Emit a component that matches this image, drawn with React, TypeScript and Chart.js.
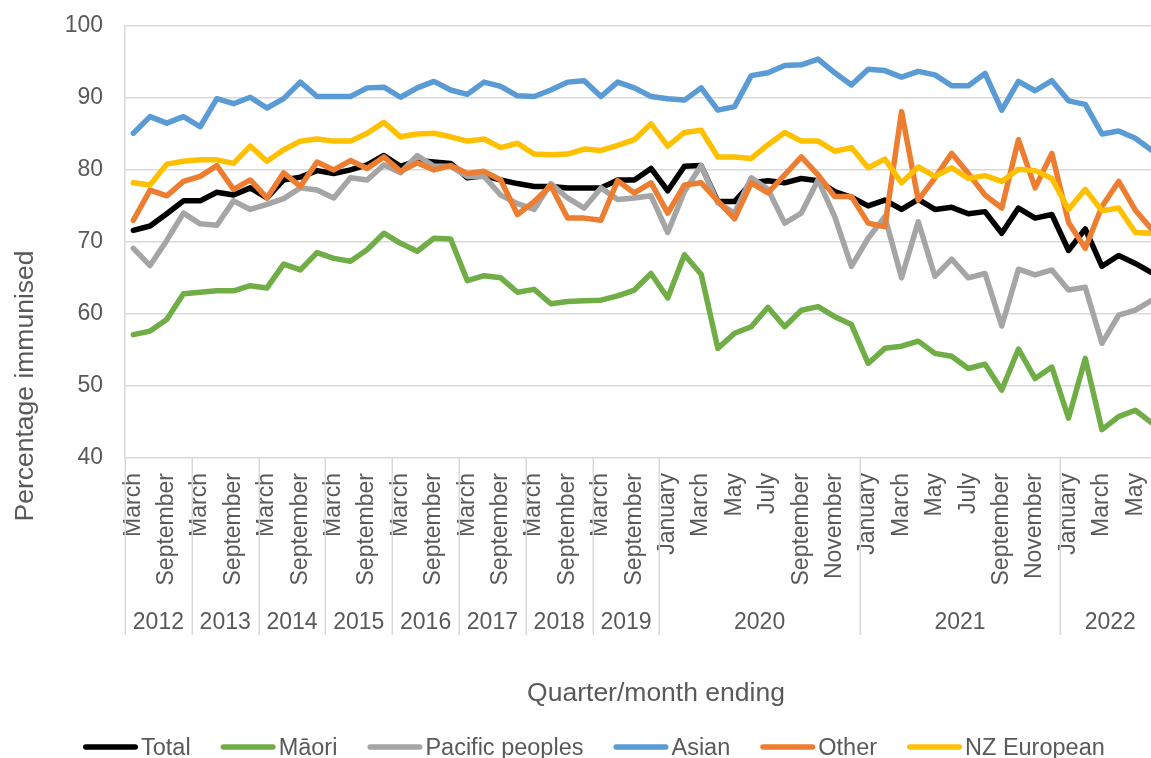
import React, { useEffect, useRef } from "react";
import { Chart, registerables } from "chart.js";

Chart.register(...registerables);

// ---------- data ----------
const years = ["2012", "2013", "2014", "2015", "2016", "2017", "2018", "2019", "2020", "2021", "2022"];
const periodsPerYear = [4, 4, 4, 4, 4, 4, 4, 4, 12, 12, 6];
const quarterMonths = ["March", "June", "September", "December"];
const monthNames = [
  "January", "February", "March", "April", "May", "June",
  "July", "August", "September", "October", "November", "December",
];
const yTicks = [40, 50, 60, 70, 80, 90, 100];

const seriesNames = ["Total", "Māori", "Pacific peoples", "Asian", "Other", "NZ European"];
const seriesColors = ["#000000", "#70AD47", "#A5A5A5", "#5B9BD5", "#ED7D31", "#FFC000"];

const total = [
  71.6, 72.2, 73.9, 75.7, 75.7, 76.9, 76.5, 77.5, 76.1, 78.6, 79.0, 79.9, 79.5, 80.0, 80.7, 82.0,
  80.5, 81.3, 81.1, 80.9, 78.9, 79.2, 78.6, 78.1, 77.7, 77.7, 77.5, 77.5, 77.5, 78.6, 78.6, 80.2,
  77.1, 80.5, 80.6, 75.6, 75.6, 78.2, 78.5, 78.2, 78.8, 78.5, 77.0, 76.2,
  75.0, 75.8, 74.5, 75.9, 74.5, 74.8, 73.9, 74.2, 71.2, 74.7, 73.3, 73.8,
  68.8, 71.8, 66.6, 68.1, 67.0, 65.7,
];
const maori = [
  57.1, 57.6, 59.2, 62.8, 63.0, 63.2, 63.2, 63.9, 63.6, 66.9, 66.1, 68.5, 67.7, 67.3, 68.9, 71.2,
  69.8, 68.7, 70.5, 70.4, 64.6, 65.3, 65.0, 63.0, 63.4, 61.4, 61.7, 61.8, 61.9, 62.5, 63.3, 65.6,
  62.2, 68.2, 65.5, 55.2, 57.3, 58.2, 60.9, 58.2, 60.5, 61.0, 59.6, 58.5,
  53.1, 55.2, 55.5, 56.2, 54.5, 54.1, 52.4, 53.0, 49.4, 55.1, 51.0, 52.6,
  45.5, 53.8, 43.9, 45.7, 46.6, 44.8,
];
const pacific = [
  69.1, 66.7, 70.2, 74.0, 72.5, 72.3, 75.7, 74.5, 75.2, 76.0, 77.5, 77.2, 76.1, 78.9, 78.6, 80.7,
  79.6, 82.0, 80.5, 80.5, 79.1, 79.1, 76.5, 75.3, 74.5, 78.1, 76.1, 74.7, 77.5, 75.9, 76.1, 76.4,
  71.3, 77.0, 80.6, 75.4, 74.0, 78.9, 77.3, 72.6, 74.0, 78.6, 73.5, 66.6,
  70.5, 73.5, 65.0, 72.8, 65.2, 67.6, 65.0, 65.6, 58.3, 66.2, 65.4, 66.1,
  63.3, 63.7, 55.9, 59.8, 60.5, 61.9,
];
const asian = [
  85.1, 87.4, 86.5, 87.4, 86.0, 89.9, 89.2, 90.1, 88.6, 89.9, 92.2, 90.2, 90.2, 90.2, 91.4, 91.5,
  90.1, 91.4, 92.3, 91.1, 90.5, 92.2, 91.6, 90.3, 90.2, 91.1, 92.2, 92.4, 90.2, 92.2, 91.4, 90.2,
  89.9, 89.7, 91.4, 88.3, 88.8, 93.1, 93.5, 94.5, 94.6, 95.4, 93.5, 91.8,
  94.0, 93.8, 92.9, 93.7, 93.2, 91.7, 91.7, 93.4, 88.3, 92.3, 91.0, 92.4,
  89.6, 89.1, 85.0, 85.4, 84.4, 82.7,
];
const other = [
  73.0, 77.2, 76.4, 78.4, 79.1, 80.6, 77.3, 78.6, 76.1, 79.6, 77.7, 81.1, 80.0, 81.3, 80.2, 81.8,
  79.8, 81.0, 80.0, 80.6, 79.5, 79.8, 78.6, 73.8, 75.6, 77.8, 73.3, 73.3, 73.0, 78.5, 76.8, 78.2,
  74.0, 77.9, 78.2, 75.7, 73.2, 78.2, 76.8, 79.3, 81.8, 79.3, 76.3, 76.3,
  72.6, 72.1, 88.1, 75.8, 78.9, 82.3, 79.5, 76.5, 74.7, 84.2, 77.5, 82.3,
  72.7, 69.1, 74.9, 78.4, 74.4, 71.7,
];
const nzEuropean = [
  78.2, 77.9, 80.8, 81.2, 81.4, 81.4, 80.9, 83.3, 81.2, 82.8, 84.0, 84.3, 84.0, 84.0, 85.1, 86.6,
  84.6, 85.0, 85.1, 84.6, 84.0, 84.3, 83.1, 83.7, 82.2, 82.1, 82.2, 82.9, 82.7, 83.4, 84.2, 86.4,
  83.3, 85.2, 85.5, 81.8, 81.8, 81.6, 83.5, 85.2, 84.0, 84.0, 82.6, 83.1,
  80.3, 81.5, 78.2, 80.4, 79.1, 80.3, 78.8, 79.2, 78.4, 80.1, 79.9, 78.8,
  74.5, 77.3, 74.3, 74.7, 71.3, 71.2,
];

const seriesData = [total, maori, pacific, asian, other, nzEuropean];

// ---------- derived categories ----------
const categoryLabels: string[] = [];
const categoryWithinYear: number[] = [];
periodsPerYear.forEach((n, yi) => {
  const names = n === 4 ? quarterMonths : monthNames.slice(0, n);
  names.forEach((name, k) => {
    categoryLabels.push(name + " " + years[yi]);
    categoryWithinYear.push(k);
  });
});
const monthOnly = (label: string) => label.split(" ")[0];

const FONT = '"Liberation Sans", Arial, sans-serif';
const TEXT_COLOR = "#595959";
const GRID_COLOR = "#D9D9D9";
const CANVAS_W = 1180;
const CANVAS_H = 758;

const excelAxisPlugin = {
  id: "excelAxis",
  afterDraw(chart: any) {
    const ctx: CanvasRenderingContext2D = chart.ctx;
    const area = chart.chartArea;
    const xs = chart.scales.x;
    const px = (i: number) => xs.getPixelForValue(i);
    ctx.save();

    // category (month) labels
    ctx.fillStyle = TEXT_COLOR;
    ctx.font = "23px " + FONT;
    categoryLabels.forEach((lab, i) => {
      if (categoryWithinYear[i] % 2 !== 0) return;
      ctx.save();
      ctx.translate(px(i), 473);
      ctx.rotate(-Math.PI / 2);
      ctx.textAlign = "right";
      ctx.textBaseline = "middle";
      ctx.fillText(monthOnly(lab), 0, 0);
      ctx.restore();
    });

    // year group separators and labels
    ctx.strokeStyle = GRID_COLOR;
    ctx.lineWidth = 1.5;
    let start = 0;
    const boundary = (idx: number) => {
      if (idx <= 0) return area.left;
      if (idx >= categoryLabels.length) return area.right;
      return (px(idx - 1) + px(idx)) / 2;
    };
    periodsPerYear.forEach((n, yi) => {
      const b0 = boundary(start);
      const b1 = boundary(start + n);
      ctx.beginPath();
      ctx.moveTo(Math.round(b0) + 0.25, area.bottom);
      ctx.lineTo(Math.round(b0) + 0.25, 635);
      ctx.stroke();
      if (yi === periodsPerYear.length - 1) {
        ctx.beginPath();
        ctx.moveTo(Math.round(b1) + 0.25, area.bottom);
        ctx.lineTo(Math.round(b1) + 0.25, 635);
        ctx.stroke();
      }
      ctx.textAlign = "center";
      ctx.textBaseline = "alphabetic";
      ctx.fillText(years[yi], (b0 + b1) / 2, 629);
      start += n;
    });

    // axis titles
    ctx.font = "26.5px " + FONT;
    ctx.textAlign = "center";
    ctx.textBaseline = "alphabetic";
    ctx.fillText("Quarter/month ending", 656, 701);
    ctx.save();
    ctx.translate(33, 386);
    ctx.rotate(-Math.PI / 2);
    ctx.fillText("Percentage immunised", 0, 0);
    ctx.restore();

    // legend
    ctx.font = "23.5px " + FONT;
    ctx.textAlign = "left";
    ctx.textBaseline = "alphabetic";
    let x = 83;
    seriesNames.forEach((name, si) => {
      ctx.strokeStyle = seriesColors[si];
      ctx.lineWidth = 5.5;
      ctx.lineCap = "round";
      ctx.beginPath();
      ctx.moveTo(x + 2.75, 747);
      ctx.lineTo(x + 52.25, 747);
      ctx.stroke();
      ctx.fillStyle = TEXT_COLOR;
      ctx.fillText(name, x + 58, 755);
      x += 58 + ctx.measureText(name).width + 30;
    });

    ctx.restore();
  },
};

export default function App() {
  const canvasRef = useRef<HTMLCanvasElement>(null);

  useEffect(() => {
    const canvas = canvasRef.current;
    if (!canvas) return;
    const chart = new Chart(canvas, {
      type: "line",
      data: {
        labels: categoryLabels,
        datasets: seriesNames.map((name, si) => ({
          label: name,
          data: seriesData[si],
          borderColor: seriesColors[si],
          backgroundColor: seriesColors[si],
          borderWidth: 5.5,
          pointRadius: 0,
          pointHoverRadius: 0,
          tension: 0,
          fill: false,
          borderCapStyle: "round" as const,
          borderJoinStyle: "round" as const,
          order: seriesNames.length - si,
        })),
      },
      options: {
        responsive: false,
        animation: false,
        devicePixelRatio: 1,
        layout: { autoPadding: false, padding: { left: 0, top: 26, right: CANVAS_W - 1160.4, bottom: 0 } },
        plugins: {
          legend: { display: false },
          tooltip: { enabled: false },
          title: { display: false },
        },
        scales: {
          x: {
            type: "category",
            offset: true,
            grid: { display: false },
            border: { display: false },
            ticks: { display: false },
            afterFit: (scale: any) => {
              scale.height = 300.3;
            },
          },
          y: {
            min: 40,
            max: 100,
            afterBuildTicks: (scale: any) => {
              scale.ticks = yTicks.map((v) => ({ value: v }));
            },
            grid: { color: GRID_COLOR, lineWidth: 1.5, drawTicks: false },
            border: { display: true, color: GRID_COLOR, width: 1.5 },
            ticks: {
              padding: 22,
              color: TEXT_COLOR,
              font: { family: FONT, size: 23 },
            },
            afterFit: (scale: any) => {
              scale.width = 125;
              scale.paddingTop = 0;
              scale.paddingBottom = 0;
            },
          },
        },
      },
      plugins: [excelAxisPlugin],
    });
    return () => chart.destroy();
  }, []);

  return (
    <div
      style={{
        position: "fixed",
        left: 0,
        top: 0,
        width: 1151,
        height: 758,
        overflow: "hidden",
        background: "#ffffff",
      }}
    >
      <canvas
        ref={canvasRef}
        width={CANVAS_W}
        height={CANVAS_H}
        style={{ display: "block", width: CANVAS_W, height: CANVAS_H }}
      />
    </div>
  );
}
